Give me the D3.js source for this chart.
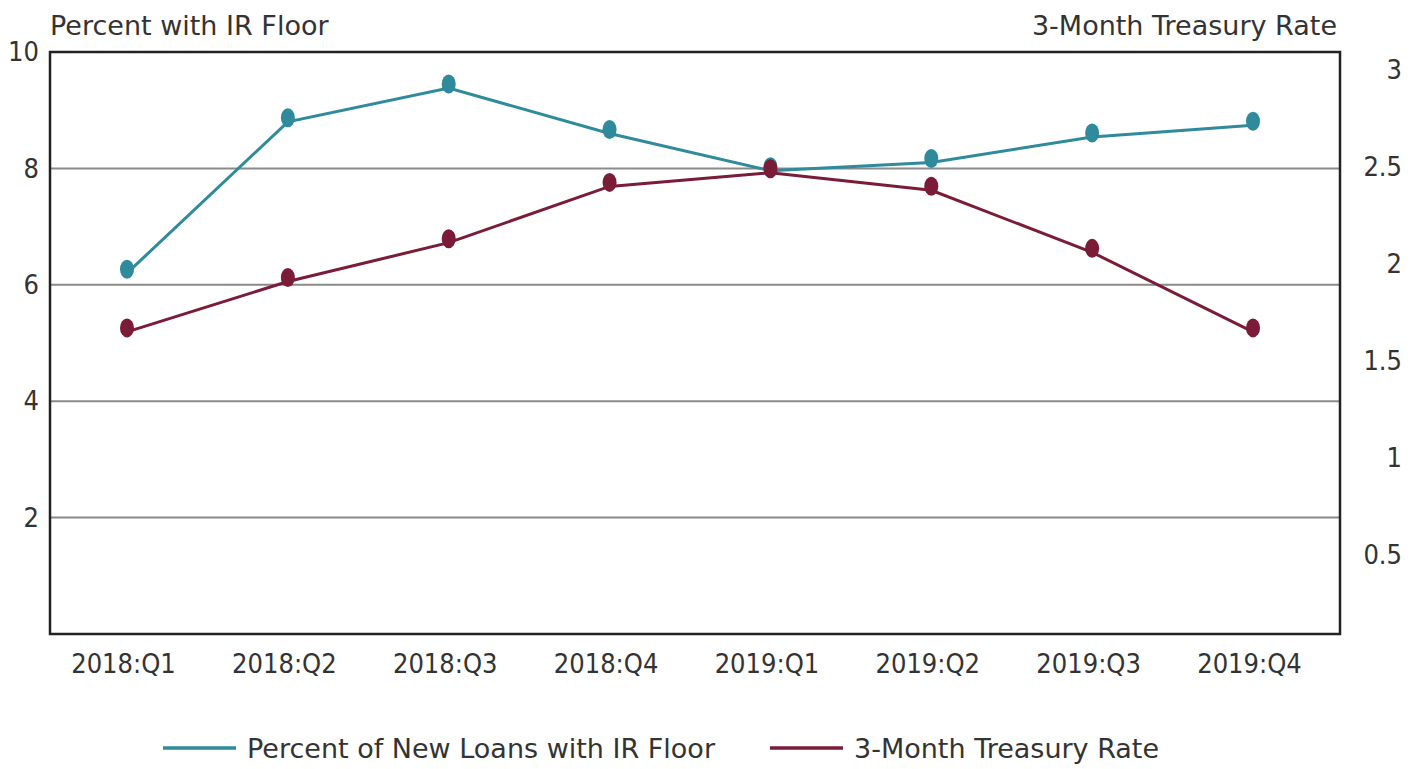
<!DOCTYPE html>
<html>
<head>
<meta charset="utf-8">
<script src="https://cdn.jsdelivr.net/npm/d3@7"></script>
<style>
  html, body { margin: 0; padding: 0; background: #fff; }
  svg { display: block; }
  text { font-family: "DejaVu Sans Condensed", "DejaVu Sans", sans-serif; font-stretch: condensed; fill: #333; }
  text.wide { font-family: "DejaVu Sans", sans-serif; font-stretch: normal; }
</style>
</head>
<body>
<svg id="chart" width="1422" height="769"></svg>
<script>
const categories = ["2018:Q1","2018:Q2","2018:Q3","2018:Q4","2019:Q1","2019:Q2","2019:Q3","2019:Q4"];
const floorPct = [6.2, 8.8, 9.38, 8.6, 7.96, 8.1, 8.54, 8.74];
const tsyRate = [1.65, 1.91, 2.11, 2.4, 2.47, 2.38, 2.06, 1.65];
const leftTicks = [2, 4, 6, 8, 10];
const rightTicks = [0.5, 1, 1.5, 2, 2.5, 3];
const seriesNames = ["Percent of New Loans with IR Floor", "3-Month Treasury Rate"];
const leftTitle = "Percent with IR Floor";
const rightTitle = "3-Month Treasury Rate";

const teal = "#2f8a9c", maroon = "#7a1c38";
const svg = d3.select("#chart");
const L = 50, R = 1340, T = 52, B = 634;

const x = d3.scalePoint().domain(categories).range([127, 1253]);
const yL = d3.scaleLinear().domain([0, 10]).range([B, T]);
const yR = d3.scaleLinear().domain([0, 3]).range([652, 70]);

// gridlines
svg.append("g").selectAll("line").data(leftTicks.filter(d => d < 10)).join("line")
  .attr("x1", L).attr("x2", R).attr("y1", d => yL(d)).attr("y2", d => yL(d))
  .attr("stroke", "#8a8a8a").attr("stroke-width", 2);

// frame
svg.append("rect").attr("x", L).attr("y", T).attr("width", R - L).attr("height", B - T)
  .attr("fill", "none").attr("stroke", "#222").attr("stroke-width", 2.5);

// left axis labels
const gl = svg.append("g").attr("transform", `translate(${L},0)`)
  .call(d3.axisLeft(yL).tickValues(leftTicks).tickSize(0).tickPadding(11).tickFormat(d3.format("d")));
gl.select(".domain").remove();
gl.selectAll("text").style("font-size", "27px").attr("fill", "#333").style("font-family", null);

// right axis labels
const gr = svg.append("g").attr("transform", `translate(1402,0)`)
  .call(d3.axisLeft(yR).tickValues(rightTicks).tickSize(0).tickPadding(0).tickFormat(d => d3.format("")(d)));
gr.select(".domain").remove();
gr.selectAll("text").style("font-size", "27px").attr("fill", "#333").style("font-family", null);

// x axis labels
const gx = svg.append("g").attr("transform", `translate(0,${B})`)
  .call(d3.axisBottom(x).tickSize(0).tickPadding(20));
gx.select(".domain").remove();
gx.selectAll("text").style("font-size", "27px").attr("fill", "#333").style("font-family", null).attr("dx", -4);

// titles
svg.append("text").attr("class", "wide").attr("x", L).attr("y", 35).style("font-size", "27px").text(leftTitle);
svg.append("text").attr("class", "wide").attr("x", R - 3).attr("y", 35).attr("text-anchor", "end").style("font-size", "27px").text(rightTitle);

// lines
const series = [
  {vals: floorPct, y: yL, color: teal},
  {vals: tsyRate, y: yR, color: maroon}
];
series.forEach(s => {
  const line = d3.line().x((d, i) => x(categories[i])).y(d => s.y(d));
  svg.append("path").datum(s.vals).attr("d", line)
    .attr("fill", "none").attr("stroke", s.color).attr("stroke-width", 3);
  svg.append("g").selectAll("ellipse").data(s.vals).join("ellipse")
    .attr("cx", (d, i) => x(categories[i])).attr("cy", d => s.y(d) - 4)
    .attr("rx", 7).attr("ry", 9.5).attr("fill", s.color);
});

// legend
const legendItems = [
  {name: seriesNames[0], color: teal, x0: 163},
  {name: seriesNames[1], color: maroon, x0: 770}
];
legendItems.forEach(li => {
  svg.append("line").attr("x1", li.x0).attr("x2", li.x0 + 73).attr("y1", 748).attr("y2", 748)
    .attr("stroke", li.color).attr("stroke-width", 3.5);
  svg.append("text").attr("class", "wide").attr("x", li.x0 + 84).attr("y", 758).style("font-size", "27px").text(li.name);
});
</script>
</body>
</html>
